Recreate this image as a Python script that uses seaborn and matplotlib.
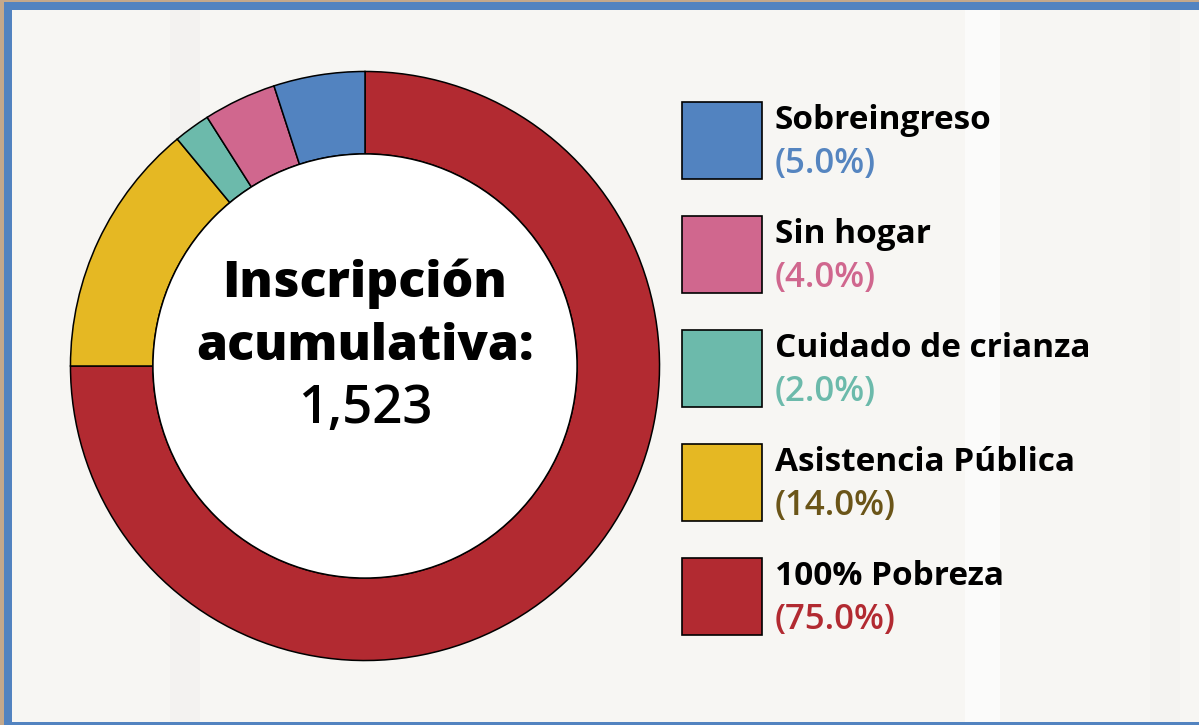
import matplotlib
matplotlib.use("Agg")
import matplotlib.pyplot as plt
import seaborn as sns
from matplotlib.patches import Rectangle

sns.set_theme(style="white")
plt.rcParams['font.family'] = ['Open Sans', 'DejaVu Sans']

# ---- data ----
categories = ["100% Pobreza", "Asistencia Pública", "Cuidado de crianza", "Sin hogar", "Sobreingreso"]
shares = [75.0, 14.0, 2.0, 4.0, 5.0]
colors = ["#b22a31", "#e5b823", "#6cbaab", "#d0678e", "#5283c0"]
label_colors = ["#b22a31", "#6b5518", "#6cbaab", "#d0678e", "#5585c0"]
legend_order = ["Sobreingreso", "Sin hogar", "Cuidado de crianza", "Asistencia Pública", "100% Pobreza"]
center_title = ["Inscripción", "acumulativa:"]
center_total = "1,523"

W, H = 1199, 725
fig = plt.figure(figsize=(W / 100, H / 100), dpi=100)
fig.patch.set_facecolor("#c4a88b")

def px(x0, y0, w, h):
    # top-left pixel box -> figure fraction
    return (x0 / W, 1 - (y0 + h) / H, w / W, h / H)

# frame
b = px(4, 2, W - 4, H - 2)
fig.patches.append(Rectangle((b[0], b[1]), b[2], b[3], transform=fig.transFigure,
                             facecolor="#5283c0", edgecolor="none", zorder=0))
c = px(12, 10, W - 12, 712)
fig.patches.append(Rectangle((c[0], c[1]), c[2], c[3], transform=fig.transFigure,
                             facecolor="#f7f6f3", edgecolor="none", zorder=0))
# faint wood streaks
for sx, sw, col in [(170, 30, "#f3f2f0"), (965, 35, "#fbfbfa"), (1150, 30, "#f4f3f1")]:
    s = px(sx, 10, sw, 712)
    fig.patches.append(Rectangle((s[0], s[1]), s[2], s[3], transform=fig.transFigure,
                                 facecolor=col, edgecolor="none", zorder=0))

# donut
cx, cy, r = 365, 366, 296
ax = fig.add_axes(px(cx - r, cy - r, 2 * r, 2 * r))
ax.set_zorder(5)
ax.set_facecolor("none")
wedges, _ = ax.pie(shares, colors=colors, startangle=90, counterclock=False, radius=1.0,
                   wedgeprops=dict(width=0.28, edgecolor="black", linewidth=1.1))
inner = plt.Circle((0, 0), 0.72, facecolor="white", edgecolor="black", linewidth=1.1)
ax.add_artist(inner)
ax.set_xlim(-1.005, 1.005)
ax.set_ylim(-1.005, 1.005)
ax.set_aspect("equal")
ax.axis("off")

ax.text(0, 0.235, center_title[0], ha="center", va="baseline", fontsize=36, fontweight="heavy", color="black")
ax.text(0, 0.02, center_title[1], ha="center", va="baseline", fontsize=36, fontweight="heavy", color="black")
ax.text(0, -0.195, center_total, ha="center", va="baseline", fontsize=38, fontweight="semibold", color="black")

# legend
top0, step = 102, 114
for i, name in enumerate(legend_order):
    k = categories.index(name)
    y = top0 + i * step
    rb = px(682, y, 80, 77)
    fig.patches.append(Rectangle((rb[0], rb[1]), rb[2], rb[3], transform=fig.transFigure,
                                 facecolor=colors[k], edgecolor="black", linewidth=1.2, zorder=6))
    fig.text(775 / W, 1 - (y + 27) / H, name, ha="left", va="baseline",
             fontsize=24, fontweight="bold", color="black", zorder=6)
    fig.text(775 / W, 1 - (y + 71) / H, f"({shares[k]:.1f}%)", ha="left", va="baseline",
             fontsize=25, fontweight="semibold", color=label_colors[k], zorder=6)

fig.savefig("out.png", dpi=100, facecolor=fig.get_facecolor())
